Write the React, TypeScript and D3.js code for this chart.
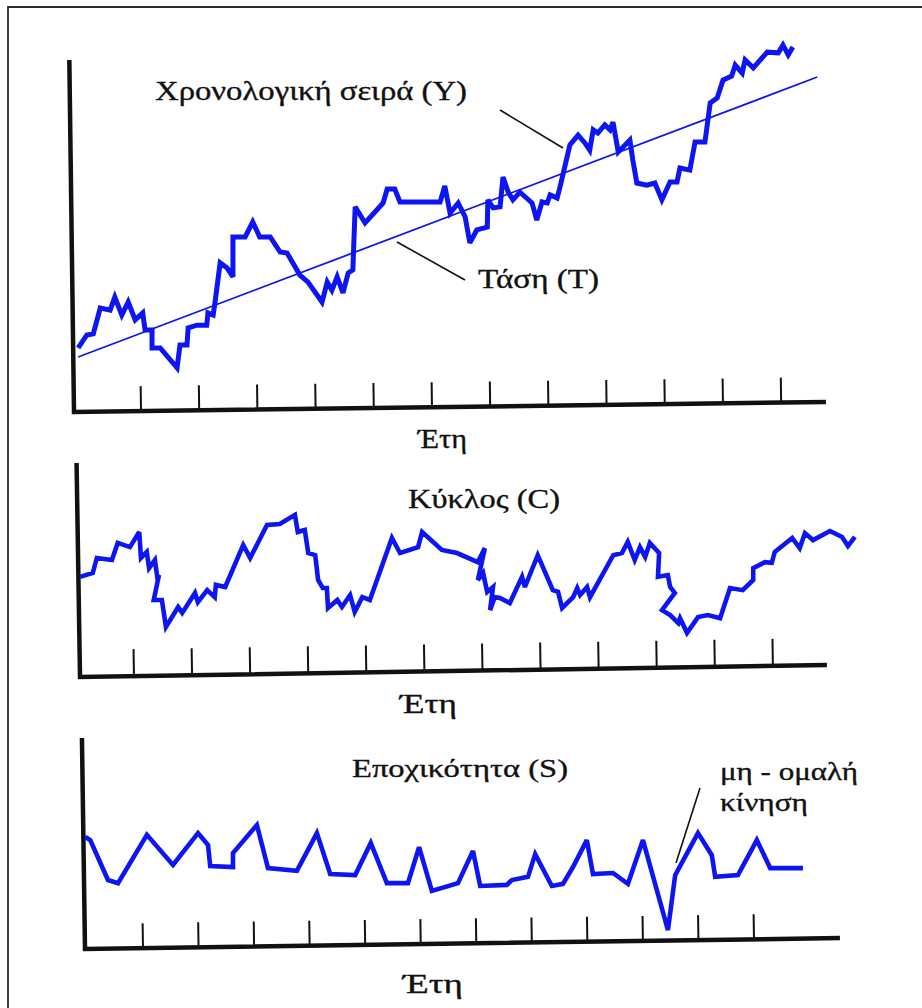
import React from 'react';
import * as d3 from 'd3';

// ---------- DATA (time in tenths of a year, values in arbitrary units) ----------
const tickYears = [1, 2, 3, 4, 5, 6, 7, 8, 9, 10, 11, 12];

// Panel 1: time series (Y) and trend (T)
const topT = [-0.8,0.7,1.8,3.0,4.7,5.5,6.7,7.8,9.0,10.3,
  10.7,11.9,11.9,13.3,16.2,16.7,17.9,18.1,19.6,21.3,
  21.5,22.4,22.7,23.6,24.8,25.8,25.8,27.9,29.2,30.4,
  32.2,33.9,35.1,37.3,38.7,41.1,42.0,42.8,43.7,44.7,
  45.6,46.4,46.8,48.5,51.6,52.3,53.6,54.5,61.4,62.2,
  63.1,64.5,65.7,66.5,67.7,69.5,69.6,70.5,71.7,72.2,
  73.1,73.9,75.1,77.2,78.0,78.9,79.8,80.3,81.5,82.0,
  83.7,85.1,86.3,87.1,87.7,88.5,89.7,90.6,91.1,92.0,
  94.0,94.5,95.2,96.9,98.3,99.5,100.9,102.1,102.6,104.3,
  105.2,106.9,107.8,109.0,110.0,111.5,112.1,113.3,113.8,115.2,
  117.6,119.5,120.3,121.2,122.0];
const topY = [18.6,22.3,22.6,30.0,29.4,33.1,28.0,31.7,26.6,28.6,
  23.7,23.7,18.6,18.6,12.9,19.4,19.4,24.3,25.1,25.1,
  28.6,28.0,31.4,42.9,41.4,38.9,50.3,50.3,54.6,50.3,
  50.3,46.0,45.7,39.4,37.4,31.7,37.4,35.1,38.9,34.3,
  40.0,40.9,58.9,54.3,60.0,64.0,64.0,60.3,60.3,64.9,
  57.1,60.0,56.0,48.6,52.3,53.1,60.9,58.6,58.9,67.4,
  63.1,60.9,63.1,60.0,55.1,60.3,60.0,62.3,61.4,64.6,
  76.6,79.4,77.1,75.1,80.9,80.0,82.3,80.9,83.1,74.6,
  78.0,72.3,65.7,65.1,65.7,60.9,66.0,66.0,70.0,69.4,
  77.4,77.4,88.6,90.0,95.1,96.3,99.4,97.1,100.9,98.6,
  103.1,102.9,105.1,102.3,104.6];
const trendT = [-0.8, 126.2];
const trendY = [16.0, 96.0];

// Panel 2: cycle (C)
const cycleT = [0.7,2.9,3.6,6.2,7.2,9.3,10.9,11.2,12.2,12.6,
  13.6,14.0,14.3,13.4,14.8,15.5,17.6,18.3,20.5,21.0,
  22.6,23.9,24.1,25.7,28.8,30.0,32.9,35.1,37.7,38.2,
  39.4,40.0,41.2,41.7,42.5,43.2,43.4,45.0,45.8,47.2,
  48.0,49.3,50.6,54.4,55.8,58.9,59.6,63.0,65.6,69.2,
  70.4,69.2,70.1,70.8,71.8,71.3,72.1,73.0,74.7,76.8,
  77.3,79.5,82.1,83.0,83.7,85.6,86.3,86.8,88.0,88.5,
  92.5,94.0,95.0,96.2,97.1,98.0,98.8,100.4,100.2,101.9,
  102.3,103.1,100.9,102.3,103.7,104.0,105.2,107.1,108.8,110.9,
  112.6,114.8,116.6,116.6,118.6,119.8,120.3,123.3,124.6,125.5,
  126.9,129.8,131.9,132.9,134.1];
const cycleC = [28.9,30.0,34.3,33.7,38.6,37.4,41.7,34.3,36.0,31.4,
  33.7,28.9,29.4,22.3,22.3,14.6,20.3,18.6,24.3,21.7,
  25.1,23.1,26.6,26.0,38.0,34.3,43.7,44.0,46.6,41.7,
  42.3,35.7,35.1,28.0,25.7,25.7,20.0,22.3,20.3,23.7,
  18.9,23.1,22.3,40.0,35.7,37.4,41.7,36.6,35.7,33.1,
  37.1,28.0,30.0,24.6,26.0,19.4,23.1,22.9,21.4,28.9,
  26.0,35.1,25.1,24.6,20.0,23.1,25.7,23.7,26.0,23.1,
  35.1,35.7,38.9,33.7,37.4,34.6,38.6,35.7,28.9,29.4,
  26.0,24.3,19.4,18.0,15.7,17.1,12.9,17.4,18.0,17.1,
  25.7,25.1,28.0,31.4,33.1,32.9,36.0,40.0,37.1,41.4,
  39.4,42.0,40.3,37.7,40.3];

// Panel 3: seasonality (S)
const seasonT = [-0.4,0.5,3.7,5.5,10.7,15.4,19.9,21.7,22.1,26.2,
  26.2,30.5,32.5,37.7,41.3,43.7,48.2,51.0,53.9,57.7,
  59.7,62.0,66.7,69.4,70.7,75.5,76.4,79.3,80.6,83.6,
  85.6,87.4,89.9,91.0,94.6,97.3,100.0,104.5,105.8,109.9,
  112.4,113.0,117.1,120.5,122.9,128.8];
const seasonS = [32.3,31.4,20.0,19.1,32.9,24.3,33.4,30.0,24.0,23.7,
  27.7,35.7,23.4,22.6,33.4,21.7,21.4,30.6,19.1,19.1,
  29.4,16.9,19.1,28.3,18.3,18.6,20.0,20.9,27.4,18.3,
  18.9,23.7,31.4,21.7,22.0,18.9,31.4,5.7,21.4,33.4,
  27.1,20.9,21.4,31.4,23.4,23.4];

// Texts
const titleY = 'Χρονολογική σειρά (Y)';
const titleT = 'Τάση (T)';
const titleC = 'Κύκλος (C)';
const titleS = 'Εποχικότητα (S)';
const irregular1 = 'μη - ομαλή';
const irregular2 = 'κίνηση';
const xLabel = 'Έτη';

const BLUE = '#0d16f2';
const INK = '#111';
const FONT = "'Liberation Serif', 'DejaVu Serif', serif";

type AxesProps = {
  ox: number; oy: number; len: number; h: number; angle: number;
  x: d3.ScaleLinear<number, number>; tickLen: number;
};

function Axes({ ox, oy, len, h, angle, x, tickLen }: AxesProps) {
  return (
    <g transform={`rotate(${angle}, ${ox}, ${oy})`}>
      {tickYears.map((k) => (
        <line key={k} x1={x(k * 10)} x2={x(k * 10)} y1={oy} y2={oy - tickLen}
          stroke={INK} strokeWidth={2} />
      ))}
      <path d={`M${ox},${oy - h} L${ox},${oy} L${ox + len},${oy}`}
        fill="none" stroke={INK} strokeWidth={4.5} strokeLinejoin="miter" />
    </g>
  );
}

function Label({ x, y, text, w, size }: { x: number; y: number; text: string; w: number; size: number }) {
  return (
    <text x={x} y={y} fontFamily={FONT} fontSize={size} fill={INK} stroke={INK} strokeWidth={0.35}
      textLength={w} lengthAdjust="spacingAndGlyphs">{text}</text>
  );
}

export default function App() {
  const W = 922, H = 1008;

  const xTop = d3.scaleLinear().domain([0, 130]).range([82.8, 82.8 + 130 * 5.82]);
  const yTop = d3.scaleLinear().domain([0, 100]).range([413, 63]);
  const xMid = d3.scaleLinear().domain([0, 130]).range([75.9, 75.9 + 130 * 5.809]);
  const yMid = d3.scaleLinear().domain([0, 60]).range([678, 468]);
  const xBot = d3.scaleLinear().domain([0, 130]).range([87.45, 87.45 + 130 * 5.555]);
  const yBot = d3.scaleLinear().domain([0, 60]).range([950, 740]);

  const mk = (xs: number[], ys: number[], sx: any, sy: any) =>
    d3.line<number>().x((_, i) => sx(xs[i])).y((d) => sy(d))(ys) || '';

  const pathY = mk(topT, topY, xTop, yTop);
  const pathTrend = mk(trendT, trendY, xTop, yTop);
  const pathC = mk(cycleT, cycleC, xMid, yMid);
  const pathS = mk(seasonT, seasonS, xBot, yBot);

  return (
    <svg width={W} height={H} viewBox={`0 0 ${W} ${H}`}
      style={{ position: 'absolute', left: 0, top: 0, background: '#fff', display: 'block' }}>
      <rect x={0} y={0} width={W} height={H} fill="#fff" />
      {/* frame */}
      <path d={`M8,${H + 5} L8,7 L${W + 5},7`} fill="none" stroke="#2a2a2a" strokeWidth={1.8} />

      {/* Panel 1 */}
      <Axes ox={74} oy={412} len={752} h={352} angle={-0.76} x={xTop} tickLen={25} />
      <path d={pathTrend} fill="none" stroke={BLUE} strokeWidth={1.8} />
      <path d={pathY} fill="none" stroke={BLUE} strokeWidth={5} strokeLinejoin="miter" strokeMiterlimit={3} />
      <Label x={155} y={100} text={titleY} w={312} size={28} />
      <line x1={500} y1={110} x2={563} y2={148} stroke={INK} strokeWidth={1.6} />
      <Label x={478} y={288} text={titleT} w={121} size={28} />
      <line x1={397} y1={242} x2={465} y2={280} stroke={INK} strokeWidth={1.6} />
      <Label x={418} y={448} text={xLabel} w={49} size={27} />

      {/* Panel 2 */}
      <Axes ox={80} oy={677} len={747} h={214} angle={-0.92} x={xMid} tickLen={27} />
      <path d={pathC} fill="none" stroke={BLUE} strokeWidth={4.6} strokeLinejoin="miter" strokeMiterlimit={3} />
      <Label x={408} y={508} text={titleC} w={152} size={27} />
      <Label x={400} y={713} text={xLabel} w={57} size={27} />

      {/* Panel 3 */}
      <Axes ox={85} oy={949} len={755} h={211} angle={-0.83} x={xBot} tickLen={25} />
      <path d={pathS} fill="none" stroke={BLUE} strokeWidth={4.6} strokeLinejoin="miter" strokeMiterlimit={3} />
      <Label x={352} y={777} text={titleS} w={216} size={26} />
      <Label x={720} y={780} text={irregular1} w={138} size={26} />
      <Label x={720} y={811} text={irregular2} w={88} size={26} />
      <line x1={700} y1={788} x2={676} y2={863} stroke={INK} strokeWidth={1.6} />
      <Label x={403} y={993} text={xLabel} w={60} size={27} />
    </svg>
  );
}
